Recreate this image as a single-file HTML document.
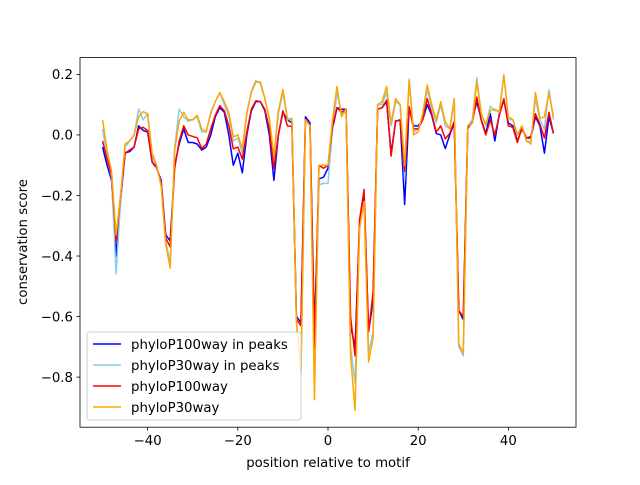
<!DOCTYPE html>
<html><head><meta charset="utf-8"><style>
html,body{margin:0;padding:0;background:#fff;}
svg text{font-family:"DejaVu Sans","Liberation Sans",sans-serif;fill:#000;}
</style></head><body>
<svg id="chart" width="640" height="480" viewBox="0 0 640 480" xmlns="http://www.w3.org/2000/svg">
<rect width="640" height="480" fill="#fff"/>
<g id="series"></g>
<g id="axes"></g>
<g id="legend"></g>
<text x="328" y="467" font-size="13.3" text-anchor="middle">position relative to motif</text>
<text x="0" y="0" font-size="13.3" text-anchor="middle" transform="translate(27,242) rotate(-90)">conservation score</text>
</svg>
<script>
const positions = [];
for (let p = -50; p <= 50; p++) positions.push(p);
const phyloP100Peaks = [-0.04,-0.1,-0.15,-0.4,-0.22,-0.06,-0.055,-0.04,0.03,0.015,0.01,-0.09,-0.11,-0.15,-0.33,-0.35,-0.1,-0.03,0.02,-0.025,-0.025,-0.03,-0.05,-0.04,0.0,0.06,0.09,0.075,0.0,-0.1,-0.06,-0.125,0.0,0.08,0.11,0.11,0.08,0.0,-0.15,0.0,0.075,0.05,0.04,-0.6,-0.62,0.06,0.04,-0.65,-0.145,-0.14,-0.11,0.02,0.09,0.085,0.085,-0.63,-0.7,-0.3,-0.2,-0.65,-0.55,0.085,0.09,0.11,-0.06,0.045,0.05,-0.23,0.09,0.03,0.03,0.05,0.1,0.065,0.005,0.0,-0.045,0.0,0.04,-0.58,-0.61,0.02,0.05,0.11,0.05,0.005,0.07,-0.02,0.07,0.115,0.04,0.03,-0.02,0.02,-0.01,-0.01,0.06,0.03,-0.06,0.06,0.005];
const phyloP30Peaks = [0.02,-0.07,-0.14,-0.46,-0.22,-0.04,-0.02,0.0,0.085,0.05,0.07,-0.07,-0.11,-0.16,-0.35,-0.42,-0.04,0.085,0.06,0.045,0.05,0.06,0.01,0.01,0.07,0.11,0.14,0.1,0.06,-0.02,-0.01,-0.06,0.07,0.145,0.18,0.17,0.12,0.05,-0.08,0.07,0.14,0.05,0.055,-0.62,-0.77,0.05,0.03,-0.8,-0.165,-0.16,-0.16,0.02,0.14,0.07,0.085,-0.7,-0.82,-0.3,-0.22,-0.72,-0.65,0.1,0.1,0.14,0.03,0.11,0.1,-0.15,0.185,0.01,0.02,0.06,0.15,0.09,0.04,0.1,0.03,0.02,0.11,-0.7,-0.73,0.03,0.05,0.19,0.07,0.03,0.095,0.08,0.08,0.2,0.05,0.05,0.0,0.03,-0.02,-0.02,0.12,0.05,0.02,0.15,0.05];
const phyloP100 = [-0.02,-0.08,-0.13,-0.35,-0.2,-0.06,-0.05,-0.04,0.02,0.025,0.015,-0.09,-0.105,-0.16,-0.34,-0.37,-0.11,-0.02,0.03,0.0,-0.005,-0.01,-0.045,-0.03,0.02,0.065,0.097,0.08,0.03,-0.046,-0.04,-0.08,0.01,0.085,0.113,0.11,0.085,0.02,-0.11,0.0,0.08,0.03,0.028,-0.61,-0.63,0.053,0.03,-0.7,-0.1,-0.11,-0.1,0.03,0.09,0.075,0.085,-0.6,-0.73,-0.28,-0.18,-0.65,-0.52,0.085,0.09,0.115,-0.07,0.047,0.047,-0.12,0.093,0.02,0.02,0.05,0.12,0.07,0.01,0.03,-0.013,0.005,0.045,-0.58,-0.6,0.025,0.04,0.125,0.047,0.0,0.05,0.0,0.065,0.12,0.03,0.025,-0.025,0.025,-0.01,-0.005,0.07,0.035,-0.01,0.075,0.005];
const phyloP30 = [0.05,-0.05,-0.12,-0.33,-0.2,-0.03,-0.02,0.0,0.06,0.077,0.07,-0.06,-0.1,-0.17,-0.36,-0.44,-0.05,0.045,0.075,0.05,0.05,0.065,0.02,0.01,0.075,0.11,0.14,0.11,0.075,-0.007,0.0,-0.045,0.075,0.14,0.175,0.175,0.12,0.055,-0.07,0.08,0.15,0.055,0.05,-0.62,-0.79,0.05,0.03,-0.875,-0.1,-0.1,-0.1,0.05,0.16,0.06,0.085,-0.73,-0.91,-0.31,-0.22,-0.75,-0.67,0.1,0.11,0.16,0.04,0.12,0.1,-0.1,0.18,0.0,0.01,0.07,0.165,0.1,0.05,0.11,0.043,0.02,0.12,-0.69,-0.72,0.03,0.04,0.175,0.07,0.035,0.08,0.085,0.075,0.196,0.06,0.05,0.0,0.03,-0.02,-0.03,0.14,0.055,0.06,0.14,0.06];
const xTicks = [-40,-20,0,20,40];
const yTicks = [-0.8,-0.6,-0.4,-0.2,0.0,0.2];
const seriesNames = ["phyloP100way in peaks","phyloP30way in peaks","phyloP100way","phyloP30way"];
const seriesColors = ["#0000ff","#87ceeb","#ff0000","#ffa500"];
const seriesData = [phyloP100Peaks, phyloP30Peaks, phyloP100, phyloP30];

const L=80,R=576,T=57.6,B=427.2;
const xMin=-55,xMax=55;
const allV=[].concat(...seriesData);
const vmin=Math.min(...allV),vmax=Math.max(...allV),pad=(vmax-vmin)*0.05;
const yMin=vmin-pad,yMax=vmax+pad;
const xs=v=>L+(v-xMin)/(xMax-xMin)*(R-L);
const ys=v=>B-(v-yMin)/(yMax-yMin)*(B-T);
const NS="http://www.w3.org/2000/svg";
function mk(tag,attrs,parent){const e=document.createElementNS(NS,tag);for(const k in attrs)e.setAttribute(k,attrs[k]);parent.appendChild(e);return e;}

const sg=document.getElementById('series');
seriesData.forEach((arr,i)=>{
  const d=arr.map((v,j)=>(j?'L':'M')+xs(positions[j]).toFixed(2)+','+ys(v).toFixed(2)).join(' ');
  const p=mk('path',{d:d,fill:'none',stroke:seriesColors[i],'stroke-width':1.5,'stroke-linejoin':'round'},sg);
  
  
});

const ag=document.getElementById('axes');
const frame=mk('rect',{x:L,y:T,width:R-L,height:B-T,fill:'none',stroke:'#000','stroke-width':0.8},ag);


xTicks.forEach(t=>{
  const x=xs(t);
  const tk=mk('line',{x1:x,x2:x,y1:B,y2:B+3.5,stroke:'#000','stroke-width':0.8},ag);
  
  
  const tx=mk('text',{x:x,y:B+18,'font-size':13.3,'text-anchor':'middle'},ag);
  tx.textContent=(t<0?'\u2212'+(-t):String(t));
  
  
});
yTicks.forEach(t=>{
  const y=ys(t);
  const tk=mk('line',{x1:L-3.5,x2:L,y1:y,y2:y,stroke:'#000','stroke-width':0.8},ag);
  
  
  const tx=mk('text',{x:L-7,y:y+4.8,'font-size':13.3,'text-anchor':'end'},ag);
  tx.textContent=(t<0?'\u2212':'')+Math.abs(t).toFixed(1);
  
  
});

const lg=document.getElementById('legend');
const box=mk('rect',{x:87,y:332,width:214,height:88,rx:3,fill:'#fff','fill-opacity':0.8,stroke:'#ccc','stroke-width':1},lg);


seriesNames.forEach((n,i)=>{
  const y=344+i*21;
  const ln=mk('line',{x1:93,x2:121,y1:y,y2:y,stroke:seriesColors[i],'stroke-width':1.5},lg);
  
  
  const tx=mk('text',{x:131,y:y+4.8,'font-size':13.3},lg);
  tx.textContent=n;
  
  
});
</script>
</body></html>
